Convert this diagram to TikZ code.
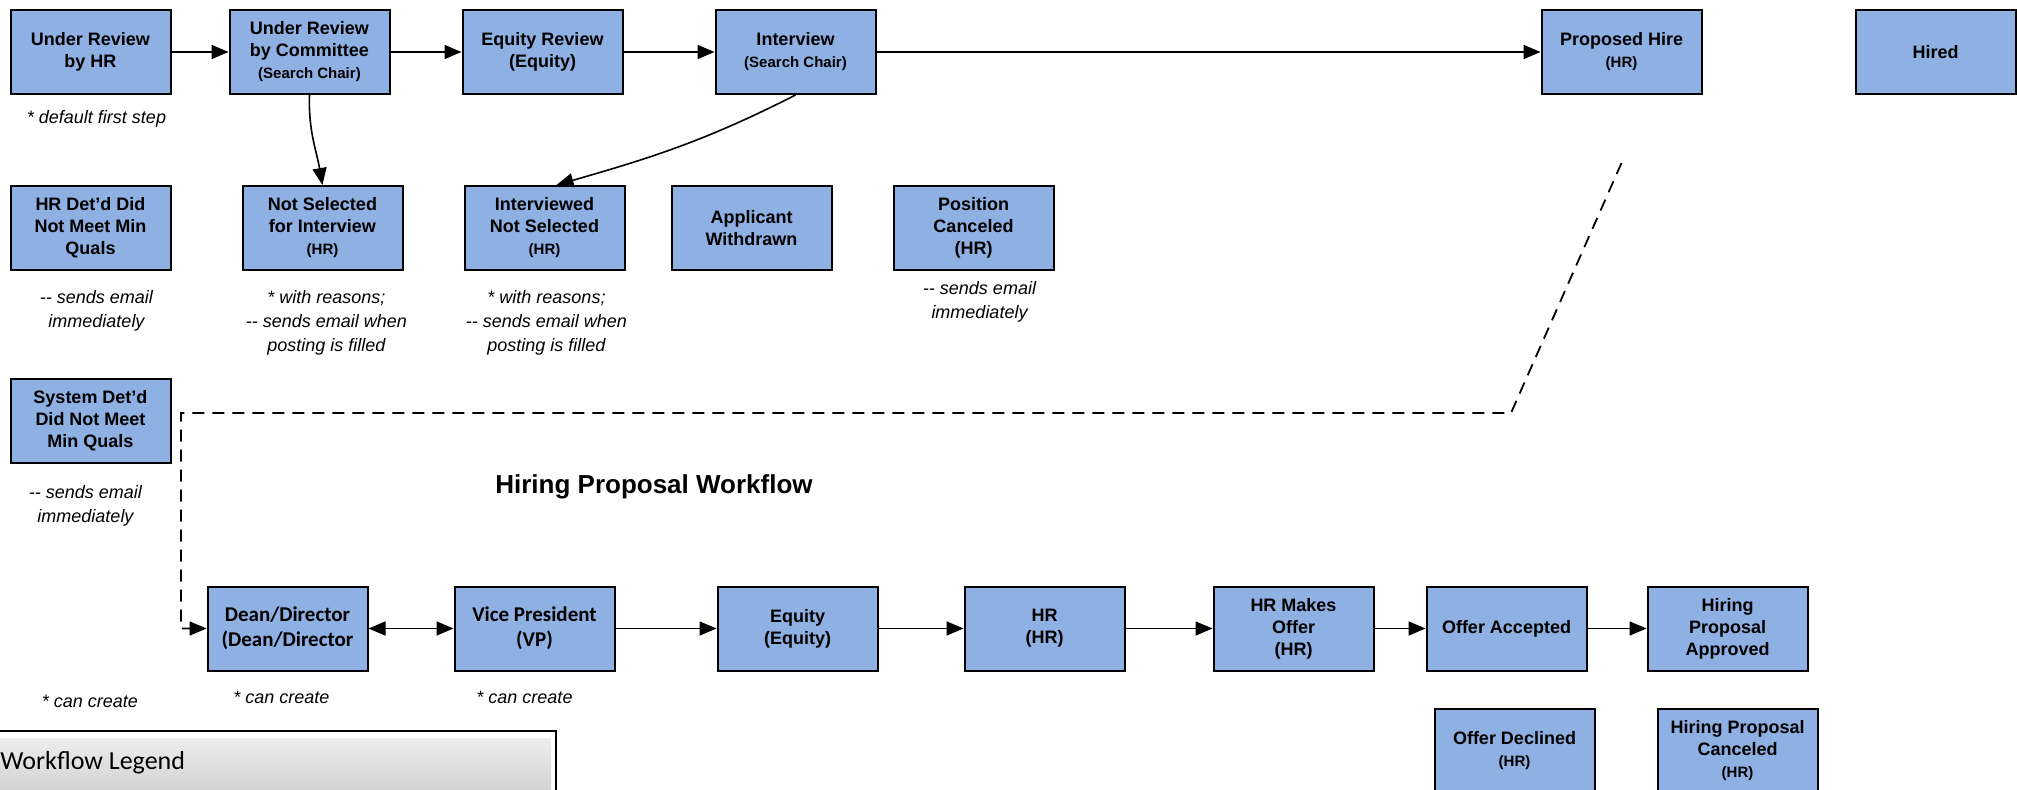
\documentclass[tikz,border=0pt]{standalone}
\usepackage{fontspec}
\setmainfont{Liberation Sans}
\newfontfamily\calfont{Carlito}
\usetikzlibrary{arrows.meta, positioning}
\definecolor{stageblue}{RGB}{142,176,226}
\newcommand{\roletext}[1]{{\fontsize{7.5}{9}\selectfont #1}}

\begin{document}
\begin{tikzpicture}[
    x=0.5pt, y=-0.5pt,
    stage/.style={
      rectangle,
      draw=black,
      line width=1pt,
      fill=stageblue,
      align=center,
      minimum width=80pt,
      minimum height=42pt,
      inner sep=2pt,
      font=\bfseries\fontsize{9}{11}\selectfont
    },
    hpstage/.style={
      stage,
      font=\calfont\bfseries\fontsize{10.5}{12.5}\selectfont
    },
    note/.style={align=center, inner sep=0pt, font=\itshape\fontsize{9}{12}\selectfont},
    title/.style={inner sep=0pt, font=\bfseries\fontsize{13}{15}\selectfont},
    line/.style={-{Triangle[length=8.5pt,width=7pt]}, line width=0.8pt},
    dline/.style={{Triangle[length=8.5pt,width=7pt]}-{Triangle[length=8.5pt,width=7pt]}, line width=0.8pt},
    link/.style={-{Triangle[length=8.5pt,width=7pt]}, line width=0.9pt, dash pattern=on 6pt off 4pt}
  ]
    \useasboundingbox (0,0) rectangle (2017,790);

    \node[stage] (urhr) at (90.5,52) {Under Review\\by HR};
    \node[stage, right=28.5pt of urhr] (urc) {Under Review\\by Committee\\\roletext{(Search Chair)}};
    \node[stage, right=35.5pt of urc] (eqrev) {Equity Review\\(Equity)};
    \node[stage, right=45.5pt of eqrev] (interview) {Interview\\\roletext{(Search Chair)}};
    \node[stage, right=332pt of interview] (proposed) {Proposed Hire\\\roletext{(HR)}};
    \node[stage, right=76pt of proposed] (hired) {Hired};

    \node[stage, below=45pt of urhr] (hrdet) {HR Det’d Did\\Not Meet Min\\Quals};
    \node[stage, right=35pt of hrdet] (notsel) {Not Selected\\for Interview\\\roletext{(HR)}};
    \node[stage, right=30pt of notsel] (intns) {Interviewed\\Not Selected\\\roletext{(HR)}};
    \node[stage, right=22.5pt of intns] (withdrawn) {Applicant\\Withdrawn};
    \node[stage, right=30pt of withdrawn] (poscan) {Position\\Canceled\\(HR)};
    \node[stage, below=53.5pt of hrdet] (sysdet) {System Det’d\\Did Not Meet\\Min Quals};

    \node[note, below=7.5pt of urhr, xshift=3pt] (urhrnote) {* default first step};
    \node[note, below=9.5pt of hrdet, xshift=3pt] (hrdetnote) {-{}- sends email\\immediately};
    \node[note, below=9.5pt of notsel, xshift=2pt] (notselnote) {* with reasons;\\-{}- sends email when\\posting is filled};
    \node[note, below=9.5pt of intns, xshift=1pt] (intnsnote) {* with reasons;\\-{}- sends email when\\posting is filled};
    \node[note, below=5pt of poscan, xshift=3pt] (poscannote) {-{}- sends email\\immediately};
    \node[note, below=10.5pt of sysdet, xshift=-2.5pt] (sysdetnote) {-{}- sends email\\immediately};

    \node[title] (hpw) at (654,487) {Hiring Proposal Workflow};

    \node[hpstage] (dean) at (287.5,628.5) {Dean/Director\\(Dean/Director};
    \node[hpstage, right=42.5pt of dean] (vp) {Vice President\\(VP)};
    \node[stage, right=50.5pt of vp] (equity) {Equity\\(Equity)};
    \node[stage, right=42.5pt of equity] (hr) {HR\\(HR)};
    \node[stage, right=43.5pt of hr] (hrmo) {HR Makes\\Offer\\(HR)};
    \node[stage, right=25.5pt of hrmo] (offacc) {Offer Accepted};
    \node[stage, right=29.5pt of offacc] (hpa) {Hiring\\Proposal\\Approved};
    \node[stage, below=18pt of offacc, xshift=4pt] (offdec) {Offer Declined\\\roletext{(HR)}};
    \node[stage, below=18pt of hpa, xshift=5pt] (hpcan) {Hiring Proposal\\Canceled\\\roletext{(HR)}};

    \node[note] (createnote) at (90,701) {* can create};
    \node[note, below=9.5pt of dean, xshift=-3pt] (deannote) {* can create};
    \node[note, below=9.5pt of vp, xshift=-5pt] (vpnote) {* can create};

    \draw[line width=1pt] (-10,731) rectangle (556,800);
    \shade[top color=black!7, bottom color=black!19] (-10,738) rectangle (551,800);
    \node[anchor=west, inner sep=0pt, font=\calfont\fontsize{13}{15}\selectfont] (legend) at (0,763) {Workflow Legend};

    \draw[line] (urhr) -- (urc);
    \draw[line] (urc) -- (eqrev);
    \draw[line] (eqrev) -- (interview);
    \draw[line] (interview) -- (proposed);
    \draw[line] (urc.south) to[out=-92, in=100] (notsel.north);
    \draw[line] (interview.south) to[out=-153, in=16] ([xshift=6pt]intns.north);

    \draw[dline] (dean) -- (vp);
    \draw[line] (vp) -- (equity);
    \draw[line] (equity) -- (hr);
    \draw[line] (hr) -- (hrmo);
    \draw[line] (hrmo) -- (offacc);
    \draw[line] (offacc) -- (hpa);

    \coordinate (dtop) at ([yshift=-34pt]proposed.south);
    \coordinate (dbend) at (1511,413);
    \coordinate (dcorner) at (181,413);
    \draw[link] (dtop) -- (dbend) -- (dcorner) |- (dean.west);
\end{tikzpicture}
\end{document}
